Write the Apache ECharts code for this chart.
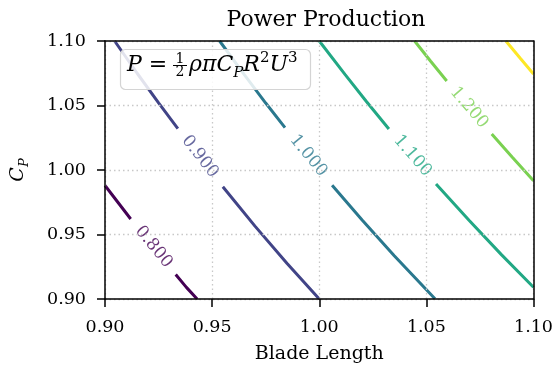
<!DOCTYPE html>
<html><head><meta charset="utf-8">
<script src="https://cdn.jsdelivr.net/npm/echarts@6/dist/echarts.min.js"></script>
<style>html,body{margin:0;padding:0;background:#fff}#c{width:556px;height:370px}</style>
</head><body><div id="c"></div>
<script>
// Contour levels and colours (viridis)
const levelNames = ['0.800','0.900','1.000','1.100','1.200','1.300'];
const levelColors = ['#440154','#414487','#2a788e','#22a884','#7ad151','#fde725'];

// Contour line points [Blade Length, Cp] (segments split at inline labels)
const c080a = [[0.900,0.988],[0.906,0.975],[0.912,0.962]];
const c080b = [[0.933,0.919],[0.938,0.909],[0.943,0.900]];
const c090a = [[0.9045,1.100],[0.915,1.075],[0.925,1.052],[0.934,1.032]];
const c090b = [[0.955,0.987],[0.970,0.9565],[0.985,0.9276],[1.000,0.900]];
const c100a = [[0.9535,1.100],[0.965,1.0739],[0.975,1.0519],[0.984,1.0328]];
const c100b = [[1.006,0.9881],[1.020,0.9612],[1.035,0.9335],[1.054,0.9002]];
const c110a = [[1.000,1.100],[1.012,1.0741],[1.022,1.0531],[1.0325,1.0318]];
const c110b = [[1.0545,0.9892],[1.070,0.9608],[1.085,0.9344],[1.100,0.9091]];
const c120a = [[1.0445,1.100],[1.052,1.0843],[1.0595,1.0690]];
const c120b = [[1.0805,1.0279],[1.090,1.0100],[1.100,0.9917]];
const c130a = [[1.0871,1.100],[1.094,1.0862],[1.100,1.0744]];

// Inline label positions and angles
const labelPos = [[0.9227,0.9403],[0.9443,1.0103],[0.9949,1.0110],[1.0435,1.0110],[1.0699,1.0484]];
const labelAngle = [-50.6,-51.9,-50.5,-49.1,-49.5];

const xMin = 0.90, xMax = 1.10, yMin = 0.90, yMax = 1.10, step = 0.05;

const FONT = 'DejaVu Serif';
const segments = [
  [c080a,0],[c080b,0],[c090a,1],[c090b,1],[c100a,2],[c100b,2],
  [c110a,3],[c110b,3],[c120a,4],[c120b,4],[c130a,5]
];

const series = segments.map(([d,li]) => ({
  type:'line', data:d, symbol:'none', showSymbol:false, silent:true,
  lineStyle:{color:levelColors[li], width:3, cap:'butt'}, z:3, clip:true
}));

series.push({
  type:'scatter', symbolSize:0, silent:true, z:4,
  data: labelPos.map((p,i) => ({
    value:p,
    label:{show:true, position:'inside', formatter:levelNames[i], rotate:labelAngle[i],
      color:levelColors[i], fontFamily:FONT, fontSize:17, align:'center', verticalAlign:'middle'}
  }))
});

const axisCommon = {
  type:'value', interval:step,
  axisLine:{show:true, onZero:false, lineStyle:{color:'#000', width:1.5}},
  axisTick:{show:true, length:8, lineStyle:{color:'#000', width:1.5}},
  axisLabel:{formatter:v=>v.toFixed(2), fontFamily:FONT, fontSize:17.5, color:'#000', margin:19},
  splitLine:{show:true, lineStyle:{color:'#c8c8c8', width:1.3, type:[1.5,3]}},
  z:5
};
const frameAxis = {
  type:'value', interval:step,
  axisLine:{show:true, onZero:false, lineStyle:{color:'#000', width:1.5}},
  axisTick:{show:false}, axisLabel:{show:false}, splitLine:{show:false}, z:6
};

const chart = echarts.init(document.getElementById('c'), null, {renderer:'canvas'});
chart.setOption({
  animation:false,
  backgroundColor:'#fff',
  title:{text:'Power Production', left:321, textAlign:'center', top:4,
    textStyle:{fontFamily:FONT, fontSize:22, fontWeight:'normal', color:'#000'}},
  grid:{left:105, right:19, top:41, bottom:71, show:false},
  xAxis:[
    Object.assign({}, axisCommon, {min:xMin, max:xMax,
      name:'Blade Length', nameLocation:'middle', nameGap:46,
      nameTextStyle:{fontFamily:FONT, fontSize:19, color:'#000'}}),
    Object.assign({}, frameAxis, {min:xMin, max:xMax, position:'top'})
  ],
  yAxis:[
    Object.assign({}, axisCommon, {min:yMin, max:yMax,
      name:'{c|C}{s|P}', nameLocation:'middle', nameGap:74, nameRotate:90,
      nameTextStyle:{color:'#000', rich:{
        c:{fontFamily:FONT, fontStyle:'italic', fontSize:19, lineHeight:26, color:'#000'},
        s:{fontFamily:FONT, fontStyle:'italic', fontSize:13, lineHeight:13, verticalAlign:'bottom', color:'#000'}
      }}}),
    Object.assign({}, frameAxis, {min:yMin, max:yMax, position:'right'})
  ],
  series:series,
  graphic:[
    {type:'rect', z:100, shape:{x:120.5, y:49.5, width:190, height:40, r:5},
      style:{fill:'rgba(255,255,255,0.85)', stroke:'#d4d4d4', lineWidth:1.2}},
    {type:'text', z:101, x:127, y:65.5, style:{
      text:'{i|P}{n| = }', verticalAlign:'middle', align:'left',
      rich:{i:{fontFamily:FONT, fontStyle:'italic', fontSize:22, fill:'#000'},
            n:{fontFamily:FONT, fontSize:22, fill:'#000'}}}},
    {type:'text', z:101, x:180, y:59.5, style:{text:'1', align:'center', verticalAlign:'middle', fontFamily:FONT, fontSize:14, fill:'#000'}},
    {type:'line', z:101, shape:{x1:173, y1:65.5, x2:187, y2:65.5}, style:{stroke:'#000', lineWidth:1}},
    {type:'text', z:101, x:180, y:72.5, style:{text:'2', align:'center', verticalAlign:'middle', fontFamily:FONT, fontSize:14, fill:'#000'}},
    {type:'text', z:101, x:189, y:65.5, style:{
      text:'{i|ρπC}{sub|P}{i|R}{sup|2}{i|U}{sup|3}', verticalAlign:'middle', align:'left',
      rich:{i:{fontFamily:FONT, fontStyle:'italic', fontSize:22, lineHeight:30, fill:'#000'},
            sub:{fontFamily:FONT, fontStyle:'italic', fontSize:15, lineHeight:16, verticalAlign:'bottom', fill:'#000'},
            sup:{fontFamily:FONT, fontSize:15, lineHeight:18, verticalAlign:'top', fill:'#000'}}}}
  ]
});
</script>
</body></html>
